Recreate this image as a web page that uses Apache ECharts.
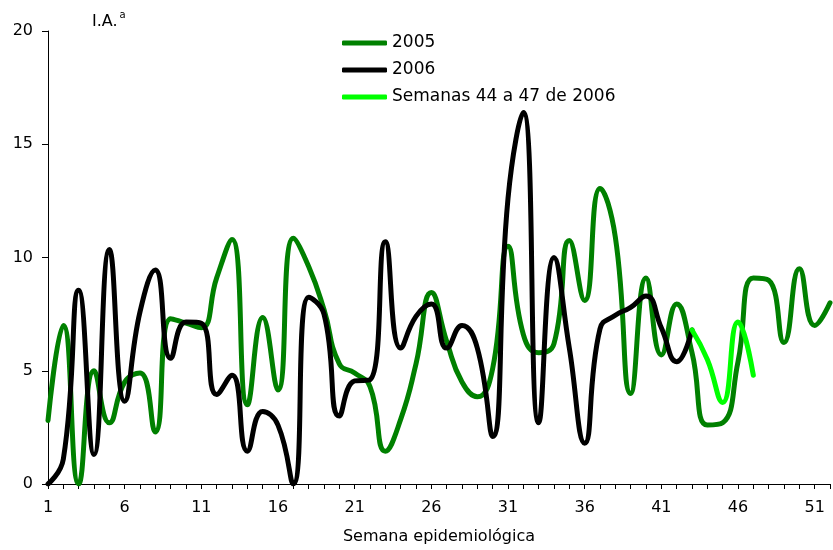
<!DOCTYPE html>
<html>
<head>
<meta charset="utf-8">
<script src="https://cdn.jsdelivr.net/npm/echarts@6/dist/echarts.min.js"></script>
<style>html,body{margin:0;padding:0;background:#fff}#c{width:833px;height:550px}</style>
</head>
<body>
<div id="c"></div>
<script>
var weeks = [1,2,3,4,5,6,7,8,9,10,11,12,13,14,15,16,17,18,19,20,21,22,23,24,25,26,27,28,29,30,31,32,33,34,35,36,37,38,39,40,41,42,43,44,45,46,47,48,49,50,51,52];
var values2005 = [2.8,7.0,0.0,5.0,2.7,4.5,4.9,2.3,7.3,7.1,6.9,9.1,10.8,3.5,7.35,4.15,10.85,9.6,7.7,5.3,4.9,4.3,1.45,2.85,5.3,8.45,6.3,4.5,3.85,5.1,10.5,6.6,5.8,6.2,10.75,8.1,13.05,10.9,4.0,9.1,5.7,7.95,5.8,2.6,2.7,5.4,9.1,9.0,6.25,9.5,7.0,8.0];
var values2006 = [0.0,1.1,8.55,1.3,10.35,3.65,7.6,9.45,5.55,7.15,7.1,3.95,4.8,1.45,3.2,2.6,0.0,8.25,7.5,3.0,4.55,4.6,10.7,6.0,7.4,7.95,6.0,7.0,6.0,2.1,12.6,16.4,2.7,10.0,6.0,1.8,6.85,7.45,7.8,8.3,6.9,5.4,6.8];
var weeksHighlight = [43,44,45,46,47];
var valuesHighlight = [6.8,5.5,3.6,7.15,4.8];
var yTicks = [0,5,10,15,20];

function pairs(xs, ys){ var out=[]; for(var i=0;i<ys.length;i++){ out.push([xs[i], ys[i]]); } return out; }

var FONT = 'DejaVu Sans';
var SMOOTH = 0.5;
var chart = echarts.init(document.getElementById('c'), null, {renderer:'canvas'});
chart.setOption({
  animation:false,
  backgroundColor:'#ffffff',
  grid:{left:48, right:-9, top:31, bottom:62, containLabel:false},
  legend:{
    orient:'vertical', left:337, top:28, itemWidth:45, itemHeight:5, itemGap:7,
    textStyle:{fontFamily:FONT, fontSize:17, color:'#000', lineHeight:20},
    data:[{name:'2005', icon:'roundRect'},{name:'2006', icon:'roundRect'},{name:'Semanas 44 a 47 de 2006', icon:'roundRect'}]
  },
  graphic:[{
    type:'text', left:92, top:10,
    style:{text:'{a|I.A.}{s|a}', rich:{a:{fontFamily:FONT, fontSize:16, color:'#000', verticalAlign:'bottom'}, s:{fontFamily:FONT, fontSize:10, color:'#000', padding:[0,0,10,2]}}}
  }],
  xAxis:{
    type:'value', min:1, max:52, interval:1,
    name:'Semana epidemiológica', nameLocation:'middle', nameGap:45,
    nameTextStyle:{fontFamily:FONT, fontSize:16, color:'#000'},
    axisLine:{lineStyle:{color:'#000', width:1}},
    axisTick:{show:true, length:5, lineStyle:{color:'#000'}},
    axisLabel:{margin:16, fontFamily:FONT, fontSize:16, color:'#000',
      formatter:function(v){ return ((v-1)%5===0) ? String(v) : ''; }},
    splitLine:{show:false}
  },
  yAxis:{
    type:'value', min:yTicks[0], max:yTicks[yTicks.length-1], interval:5,
    axisLine:{show:true, lineStyle:{color:'#000', width:1}},
    axisTick:{show:true, length:6, lineStyle:{color:'#000'}},
    axisLabel:{margin:15, fontFamily:FONT, fontSize:16, color:'#000'},
    splitLine:{show:false}
  },
  series:[
    {name:'2005', type:'line', data:pairs(weeks, values2005), smooth:SMOOTH, showSymbol:false,
     lineStyle:{color:'#008000', width:5, cap:'round', join:'round'}, itemStyle:{color:'#008000'}},
    {name:'2006', type:'line', data:pairs(weeks, values2006), smooth:SMOOTH, showSymbol:false,
     lineStyle:{color:'#000000', width:5, cap:'round', join:'round'}, itemStyle:{color:'#000000'}},
    {name:'Semanas 44 a 47 de 2006', type:'line', data:pairs(weeksHighlight, valuesHighlight), smooth:SMOOTH, showSymbol:false,
     lineStyle:{color:'#00ff00', width:5, cap:'round', join:'round'}, itemStyle:{color:'#00ff00'}}
  ]
});
</script>
</body>
</html>
